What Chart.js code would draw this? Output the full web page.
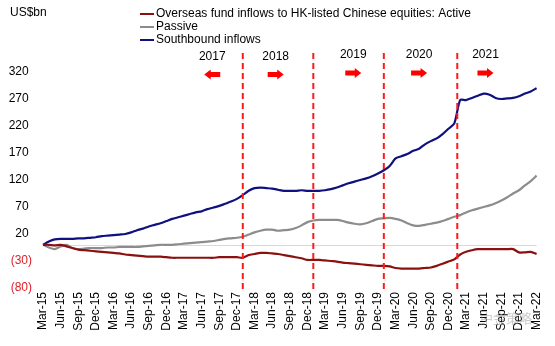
<!DOCTYPE html>
<html>
<head>
<meta charset="utf-8">
<script src="https://cdn.jsdelivr.net/npm/chart.js@4"></script>
<style>
  body { margin: 0; background: #fff; }
  #wrap { width: 555px; height: 346px; }
</style>
</head>
<body>
<div id="wrap"><canvas id="chart" width="555" height="346"></canvas></div>
<script>
// Month labels Mar-15 .. Mar-22, only every quarter gets shown on the axis
const monthNames = ['Jan','Feb','Mar','Apr','May','Jun','Jul','Aug','Sep','Oct','Nov','Dec'];
const months = [];
for (let i = 0; i < 85; i++) {
  const m = (2 + i) % 12;
  const y = 15 + Math.floor((2 + i) / 12);
  months.push(monthNames[m] + '-' + y);
}

// US$bn, cumulative (monthly)
const activeFlows = [
  0, 0, -1, 0, -3, -6, -9, -10, -11, -12, -13, -14,
  -15, -16, -18, -19, -20, -21, -22, -22, -22, -23, -24, -24,
  -24, -24, -24, -24, -24, -24, -23, -23, -23, -23, -24, -19,
  -17, -15, -15, -16, -17, -19, -21, -23, -25, -28, -28, -28,
  -29, -30, -31, -33, -34, -35, -36, -37, -38, -39, -39, -40,
  -43, -44, -44, -44, -44, -43, -42, -39, -35, -31, -27, -18,
  -13, -10, -8, -8, -8, -8, -8, -8, -8, -14, -14, -13,
  -17
];
const passiveFlows = [
  0, -5, -8, -3, 0, -6, -8, -7, -6, -6, -6, -5,
  -5, -4, -4, -4, -4, -3, -2, -1, 0, 0, 0, 1,
  2, 3, 4, 5, 6, 7, 9, 11, 12, 13, 15, 19,
  23, 26, 28, 28, 26, 27, 28, 31, 36, 42, 45, 46,
  46, 46, 46, 44, 41, 39, 38, 40, 44, 48, 49, 50,
  48, 45, 40, 36, 35, 37, 39, 41, 44, 48, 52, 55,
  60, 64, 67, 70, 73, 77, 82, 88, 95, 101, 110, 118,
  128
];
const southboundFlows = [
  0, 6, 10, 11, 11, 11, 12, 12, 13, 14, 16, 17,
  18, 19, 20, 23, 27, 30, 34, 37, 40, 44, 48, 51,
  54, 57, 60, 62, 66, 69, 72, 76, 80, 85, 92, 100,
  105, 106, 105, 104, 102, 100, 100, 100, 101, 100, 100, 100,
  101, 103, 106, 110, 114, 117, 120, 123, 127, 132, 138, 146,
  160, 164, 168, 174, 178, 186, 192, 197, 205, 215, 225, 268,
  268, 272, 276, 280, 278, 272, 270, 271, 272, 275, 280, 284,
  290
];
const seriesNames = [
  'Overseas fund inflows to HK-listed Chinese equities: Active',
  'Passive',
  'Southbound inflows'
];

// year markers above the plot (month index, arrow direction)
const yearMarks = ['2017', '2018', '2019', '2020', '2021'];
const yearMarkAt = [28.8, 39.6, 52.8, 64, 75.3];
const yearMarkDir = [-1, 1, 1, 1, 1];
const yearBreaks = [34, 46, 58, 70.5];

const FONT = '"Liberation Sans", Arial, sans-serif';
const colors = ['#8b1010', '#8c8c8c', '#10107e'];

function drawArrow(ctx, cx, cy, dir) {
  const half = 8, head = 6.5, bodyH = 2.5, headH = 5;
  const tip = cx + dir * half, back = cx - dir * half, neck = tip - dir * head;
  ctx.beginPath();
  ctx.moveTo(back, cy - bodyH);
  ctx.lineTo(neck, cy - bodyH);
  ctx.lineTo(neck, cy - headH);
  ctx.lineTo(tip, cy);
  ctx.lineTo(neck, cy + headH);
  ctx.lineTo(neck, cy + bodyH);
  ctx.lineTo(back, cy + bodyH);
  ctx.closePath();
  ctx.fill();
}

const overlay = {
  id: 'overlay',
  beforeDatasetsDraw(chart) {
    const { ctx, chartArea, scales } = chart;
    const y0 = scales.y.getPixelForValue(0);
    ctx.save();
    ctx.strokeStyle = '#d9d9d9';
    ctx.lineWidth = 1;
    ctx.beginPath();
    ctx.moveTo(chartArea.left, Math.round(y0) + 0.5);
    ctx.lineTo(chartArea.right, Math.round(y0) + 0.5);
    ctx.stroke();
    ctx.restore();
  },
  afterDatasetsDraw(chart) {
    const { ctx, chartArea, scales } = chart;
    ctx.save();
    // dashed year breaks
    ctx.strokeStyle = '#ff1a1a';
    ctx.lineWidth = 2;
    ctx.setLineDash([6, 4]);
    yearBreaks.forEach(m => {
      const x = scales.x.getPixelForValue(m);
      ctx.beginPath();
      ctx.moveTo(x, chartArea.top - 19);
      ctx.lineTo(x, chartArea.bottom + 5);
      ctx.stroke();
    });
    ctx.setLineDash([]);

    // year labels + arrows
    ctx.font = '12px ' + FONT;
    ctx.textAlign = 'center';
    ctx.textBaseline = 'middle';
    yearMarks.forEach((t, i) => {
      const x = scales.x.getPixelForValue(yearMarkAt[i]);
      const dy = i < 2 ? 1.5 : 0;
      ctx.fillStyle = '#000';
      ctx.fillText(t, x, chartArea.top - 17 + dy);
      ctx.fillStyle = '#ff0000';
      drawArrow(ctx, x, chartArea.top + 1 + dy, yearMarkDir[i]);
    });

    // legend
    ctx.textAlign = 'left';
    chart.data.datasets.forEach((ds, i) => {
      const y = 14 + i * 13;
      ctx.strokeStyle = ds.borderColor;
      ctx.lineWidth = 2;
      ctx.beginPath();
      ctx.moveTo(140, y);
      ctx.lineTo(154, y);
      ctx.stroke();
      ctx.fillStyle = '#000';
      ctx.fillText(ds.label, 156, y);
    });
    ctx.fillText('US$bn', 10, 13);

    // watermark
    ctx.font = '13px "Noto Sans CJK SC", sans-serif';
    ctx.fillStyle = 'rgba(160,160,160,0.55)';
    ctx.fillText('中金策略', 480, 318);
    ctx.restore();
  }
};

new Chart(document.getElementById('chart'), {
  type: 'line',
  data: {
    labels: months,
    datasets: [
      { label: seriesNames[0], data: activeFlows, borderColor: colors[0] },
      { label: seriesNames[1], data: passiveFlows, borderColor: colors[1] },
      { label: seriesNames[2], data: southboundFlows, borderColor: colors[2] }
    ]
  },
  options: {
    responsive: false,
    animation: false,
    layout: { padding: { top: 72, right: 13, left: 0, bottom: 0 } },
    elements: {
      line: { borderWidth: 2.2, tension: 0.25 },
      point: { radius: 0 }
    },
    plugins: { legend: { display: false }, tooltip: { enabled: false } },
    scales: {
      x: {
        grid: { display: false, drawTicks: false },
        border: { display: false },
        afterFit: s => { s.height = 58; },
        ticks: {
          autoSkip: false,
          minRotation: 90,
          maxRotation: 90,
          padding: 4,
          color: '#000',
          font: { family: FONT, size: 12 },
          callback: (v, i) => (i % 3 === 0 ? months[i] : '')
        }
      },
      y: {
        min: -80,
        max: 320,
        grid: { display: false, drawTicks: false },
        border: { display: false },
        afterFit: s => { s.width = 43; },
        ticks: {
          stepSize: 50,
          padding: 11,
          font: { family: FONT, size: 12 },
          color: c => (c.tick && c.tick.value < 0 ? '#e0202a' : '#000'),
          callback: v => (v < 0 ? '(' + Math.abs(v) + ')' : v + ' ')
        }
      }
    }
  },
  plugins: [overlay]
});
</script>
</body>
</html>
